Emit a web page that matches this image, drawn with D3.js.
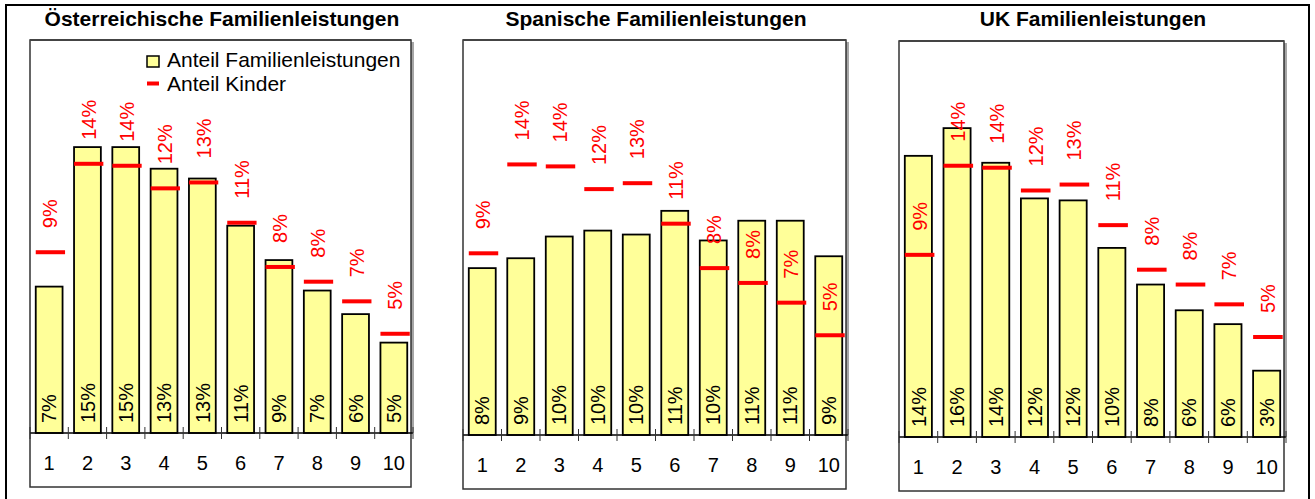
<!DOCTYPE html>
<html><head><meta charset="utf-8">
<script src="https://cdn.jsdelivr.net/npm/d3@7"></script>
<style>
body{margin:0;background:#fff}
svg{display:block}
text{font-family:"Liberation Sans",Arial,Helvetica,sans-serif}
</style>
</head><body>
<script>
// ---- data ----
const categories = ["1","2","3","4","5","6","7","8","9","10"];
const kinderShare = [9.2, 13.7, 13.6, 12.45, 12.75, 10.7, 8.45, 7.7, 6.7, 5.05];
const austriaBenefits = [7.45, 14.55, 14.55, 13.45, 12.95, 10.55, 8.8, 7.25, 6.05, 4.6];
const spainBenefits = [8.45, 8.95, 10.05, 10.35, 10.15, 11.35, 9.85, 10.85, 10.85, 9.05];
const ukBenefits = [14.2, 15.6, 13.85, 12.05, 11.95, 9.55, 7.7, 6.4, 5.7, 3.35];
const titles = ["Österreichische Familienleistungen", "Spanische Familienleistungen", "UK Familienleistungen"];
const legendLabels = ["Anteil Familienleistungen", "Anteil Kinder"];
const yMax = 20;

// ---- layout ----
const W = 1315, H = 499;
const panels = [
  {x0:30,  x1:413,  top:40, axisY:433, bottom:487, titleX:222,  data:austriaBenefits, title:titles[0], legend:true},
  {x0:463, x1:848,  top:40, axisY:435, bottom:489, titleX:656,  data:spainBenefits,   title:titles[1]},
  {x0:899, x1:1286, top:41, axisY:437, bottom:491, titleX:1093, data:ukBenefits,      title:titles[2]}
];
const barFill = "#FFFF99", red = "#FF0000";
const fmt = v => Math.round(v) + "%";

const svg = d3.select("body").append("svg").attr("width", W).attr("height", H);
svg.append("rect").attr("width", W).attr("height", H).attr("fill", "#fff");

// outer frame (left, top, right)
svg.append("path")
  .attr("d", `M6,${H} V5 H1309 V${H}`)
  .attr("fill", "none").attr("stroke", "#000").attr("stroke-width", 2);

panels.forEach(p => {
  const g = svg.append("g");
  const x = d3.scaleBand().domain(categories).range([p.x0, p.x1]).paddingInner(0.3).paddingOuter(0.15);
  const y = d3.scaleLinear().domain([0, yMax]).range([p.axisY, p.top]);
  const boxR = p.x1 - 2;

  // title
  g.append("text").attr("x", p.titleX).attr("y", 26).attr("text-anchor", "middle")
    .attr("font-size", 21).attr("font-weight", "bold").text(p.title);

  // plot shadow
  g.append("rect").attr("x", boxR).attr("y", p.top + 2).attr("width", 3).attr("height", p.axisY - p.top - 2)
    .attr("fill", "#a6a6a6");
  // chart box
  g.append("rect").attr("x", p.x0).attr("y", p.top).attr("width", boxR - p.x0).attr("height", p.bottom - p.top)
    .attr("fill", "#fff").attr("stroke", "#333").attr("stroke-width", 1.5);
  g.append("line").attr("x1", p.x0).attr("x2", boxR).attr("y1", p.top).attr("y2", p.top)
    .attr("stroke", "#444").attr("stroke-width", 2);

  // bars
  g.selectAll("rect.bar").data(p.data).join("rect").attr("class", "bar")
    .attr("x", (d, i) => x(categories[i]))
    .attr("y", d => y(d))
    .attr("width", x.bandwidth())
    .attr("height", d => y(0) - y(d))
    .attr("fill", barFill).attr("stroke", "#000").attr("stroke-width", 1.8);

  // bar labels
  g.selectAll("text.bl").data(p.data).join("text").attr("class", "bl")
    .attr("transform", (d, i) => `translate(${x(categories[i]) + x.bandwidth() / 2},${y(0) - 10}) rotate(-90)`)
    .attr("dy", "0.36em").attr("font-size", 20).attr("fill", "#000").text(d => fmt(d));

  // axis line and cross ticks at category boundaries
  g.append("line").attr("x1", p.x0).attr("x2", p.x1).attr("y1", p.axisY).attr("y2", p.axisY)
    .attr("stroke", "#000").attr("stroke-width", 1.5);
  const bounds = d3.range(categories.length + 1).map(i => p.x0 + i * x.step());
  g.selectAll("line.tk").data(bounds).join("line").attr("class", "tk")
    .attr("x1", d => d).attr("x2", d => d).attr("y1", p.axisY - 6).attr("y2", p.axisY + 6)
    .attr("stroke", "#333").attr("stroke-width", 1);

  // category labels
  const ax = g.append("g").attr("transform", `translate(0,${p.axisY})`)
    .call(d3.axisBottom(x).tickSize(0).tickPadding(23));
  ax.select(".domain").remove();
  ax.selectAll("text").attr("font-size", 20).attr("font-family", "Liberation Sans, Arial, sans-serif").attr("fill", "#000");

  // Anteil Kinder dashes
  g.selectAll("line.kd").data(kinderShare).join("line").attr("class", "kd")
    .attr("x1", (d, i) => x(categories[i]))
    .attr("x2", (d, i) => x(categories[i]) + x.bandwidth() + 2.5)
    .attr("y1", d => y(d)).attr("y2", d => y(d))
    .attr("stroke", red).attr("stroke-width", 4);
  g.selectAll("text.kl").data(kinderShare).join("text").attr("class", "kl")
    .attr("transform", (d, i) => `translate(${x(categories[i]) + x.bandwidth() / 2 + 1},${y(d) - 24}) rotate(-90)`)
    .attr("dy", "0.36em").attr("font-size", 20).attr("fill", red).text(d => fmt(d));

  // legend
  if (p.legend) {
    const lx = 147;
    g.append("rect").attr("x", lx).attr("y", 56).attr("width", 12).attr("height", 11)
      .attr("fill", barFill).attr("stroke", "#000").attr("stroke-width", 1.5);
    g.append("text").attr("x", 167).attr("y", 67).attr("font-size", 21).text(legendLabels[0]);
    g.append("line").attr("x1", lx).attr("x2", lx + 12).attr("y1", 83.5).attr("y2", 83.5)
      .attr("stroke", red).attr("stroke-width", 4);
    g.append("text").attr("x", 167).attr("y", 91).attr("font-size", 21).text(legendLabels[1]);
  }
});
</script>
</body></html>
